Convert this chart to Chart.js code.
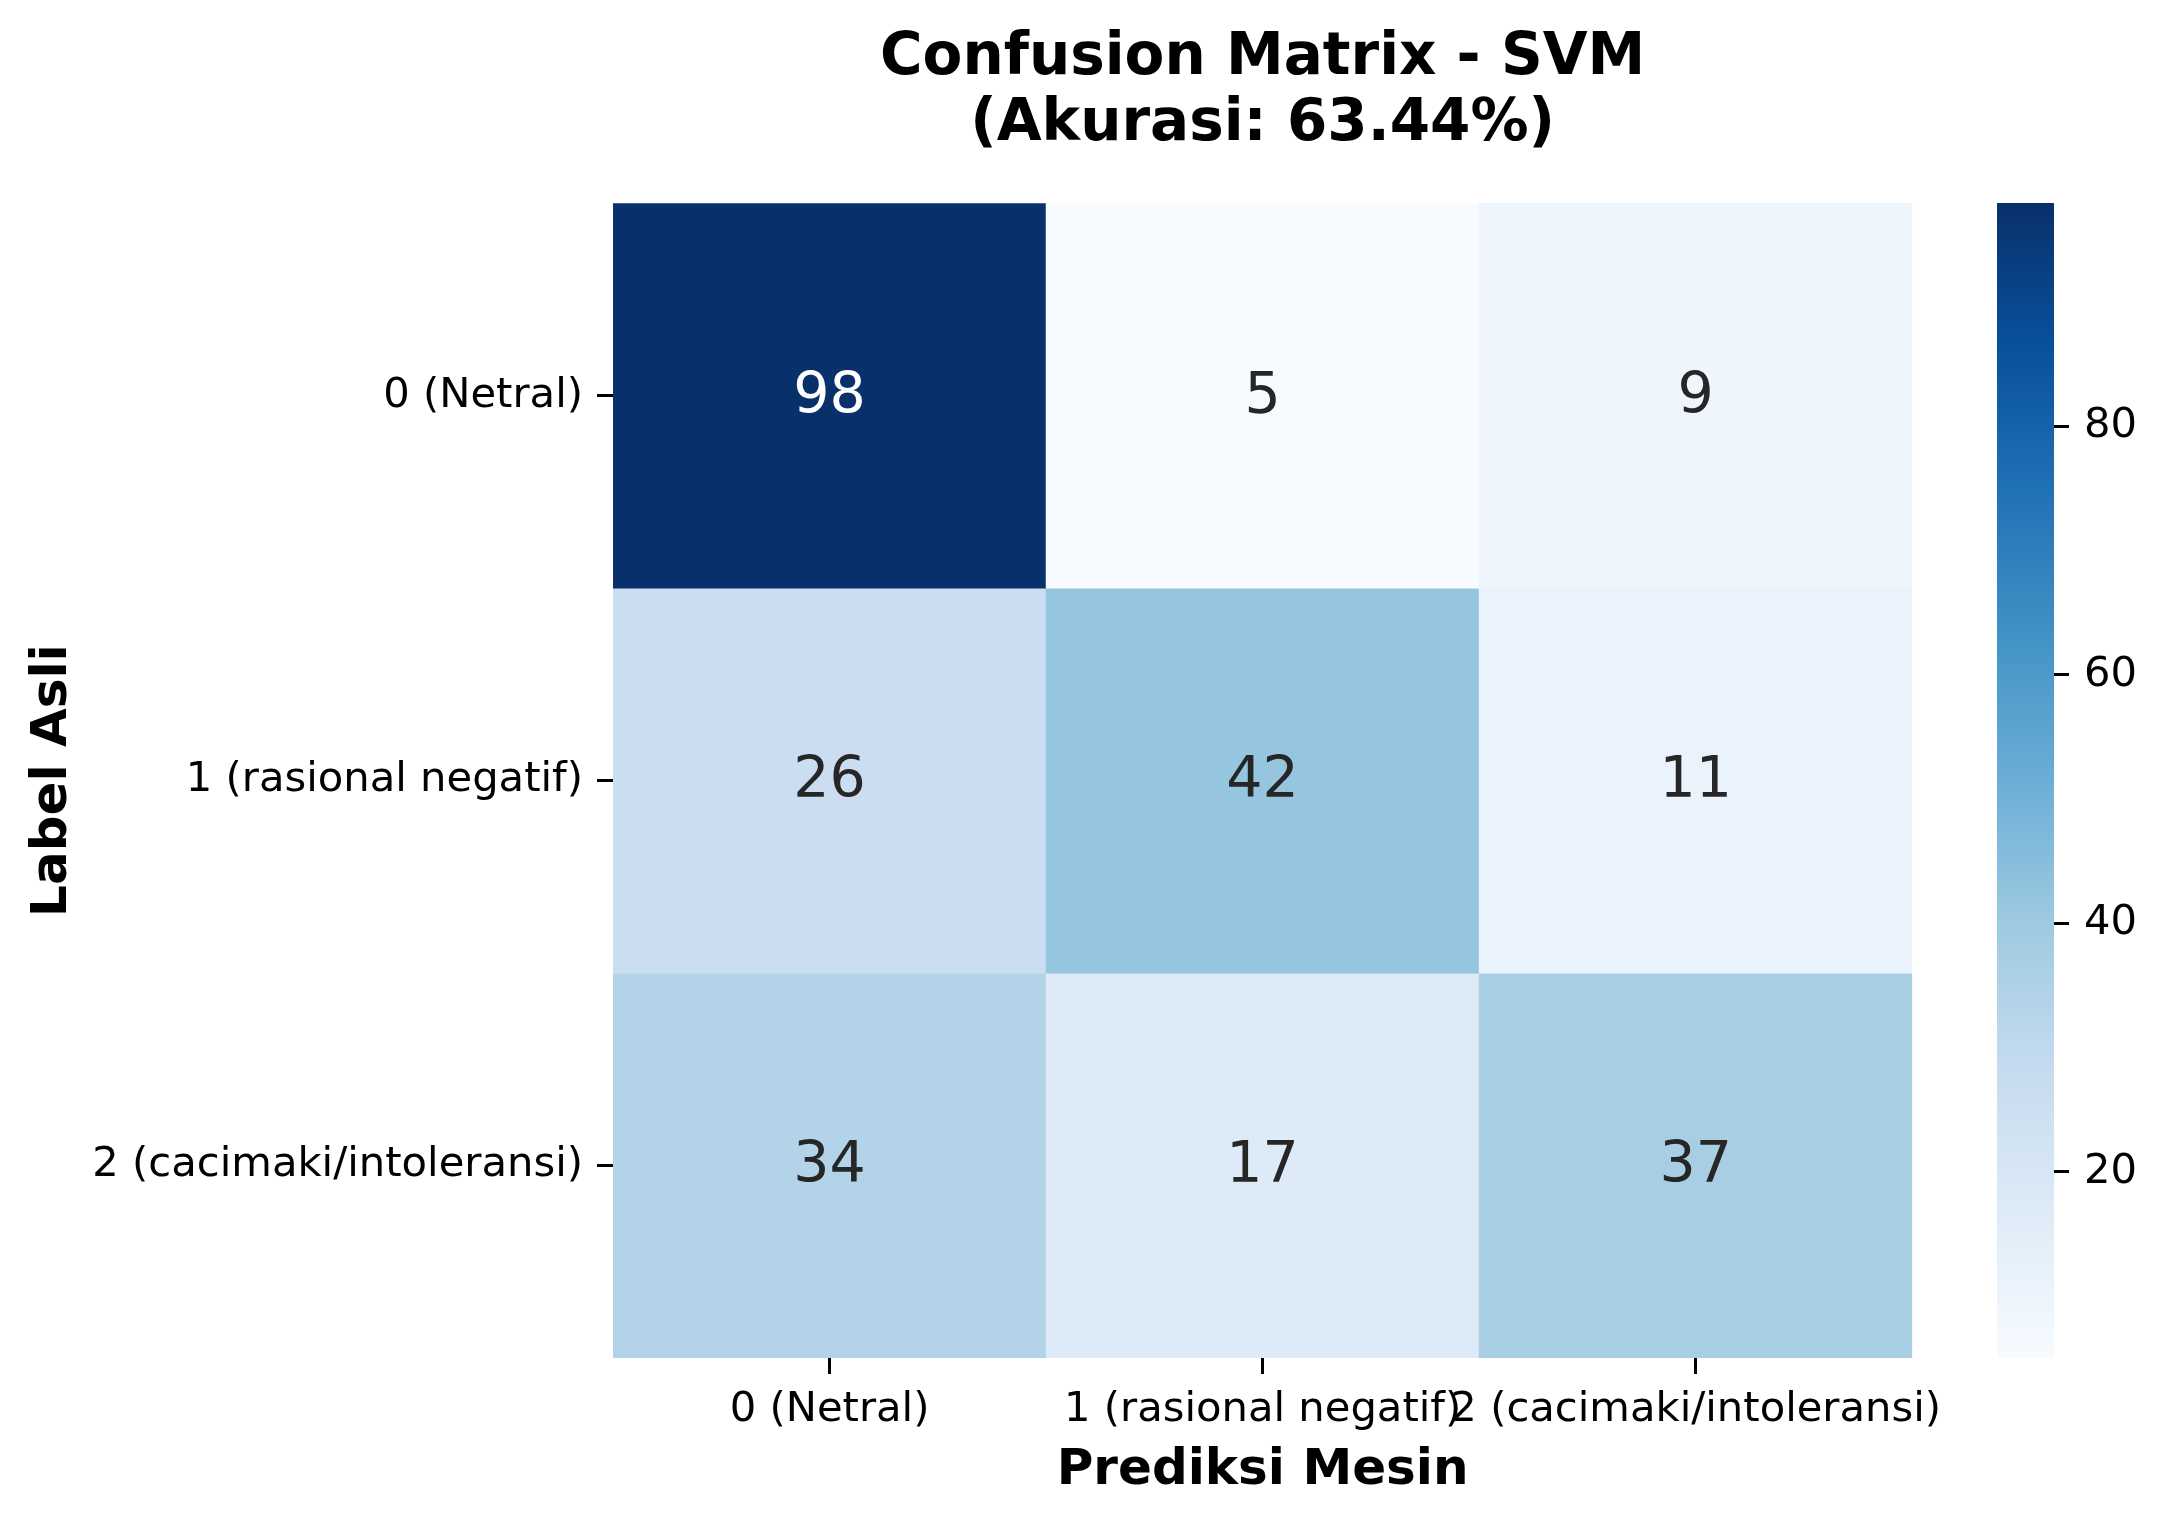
<!DOCTYPE html>
<html>
<head>
<meta charset="utf-8">
<title>Confusion Matrix - SVM</title>
<script src="https://cdn.jsdelivr.net/npm/chart.js@4.4.1/dist/chart.umd.min.js"></script>
<style>
  html, body { margin: 0; padding: 0; background: #fff; }
  #wrap { position: relative; width: 2166px; height: 1524px; }
  #matrix { position: absolute; left: 0; top: 0; }
  #colorbar { position: absolute; left: 1960px; top: 0; }
</style>
</head>
<body>
<div id="wrap">
  <canvas id="matrix" width="1960" height="1524"></canvas>
  <canvas id="colorbar" width="206" height="1524"></canvas>
</div>
<script>
// Confusion matrix counts, one array per true label (rows), columns = predicted.
const rowLabels = ["0 (Netral)", "1 (rasional negatif)", "2 (cacimaki/intoleransi)"];
const colLabels = ["0 (Netral)", "1 (rasional negatif)", "2 (cacimaki/intoleransi)"];
const rowNetral = [98, 5, 9];
const rowRasional = [26, 42, 11];
const rowCacimaki = [34, 17, 37];
const rows = [rowNetral, rowRasional, rowCacimaki];
const colorbarTicks = [20, 40, 60, 80];

const titleLines = ["Confusion Matrix - SVM", "(Akurasi: 63.44%)"];

// matplotlib "Blues" control colours
const BLUES = ["#f7fbff", "#deebf7", "#c6dbef", "#9ecae1", "#6baed6",
               "#4292c6", "#2171b5", "#08519c", "#08306b"];

const allValues = rows.flat();
const vmin = Math.min.apply(null, allValues);
const vmax = Math.max.apply(null, allValues);

function hexRgb(h) {
  return [1, 3, 5].map(function (i) { return parseInt(h.substr(i, 2), 16); });
}

function blues(t) {
  t = Math.max(0, Math.min(1, t));
  const pos = t * (BLUES.length - 1);
  const i = Math.min(Math.floor(pos), BLUES.length - 2);
  const f = pos - i;
  const a = hexRgb(BLUES[i]), b = hexRgb(BLUES[i + 1]);
  return a.map(function (c, k) { return Math.round(c + (b[k] - c) * f); });
}

function cellRgb(v) { return blues((v - vmin) / (vmax - vmin)); }
function rgbStr(c) { return "rgb(" + c[0] + "," + c[1] + "," + c[2] + ")"; }

// seaborn picks the annotation colour from the cell luminance
function textColor(v) {
  const lum = cellRgb(v).map(function (c) {
    c = c / 255;
    return c <= 0.03928 ? c / 12.92 : Math.pow((c + 0.055) / 1.055, 2.4);
  });
  const l = 0.2126 * lum[0] + 0.7152 * lum[1] + 0.0722 * lum[2];
  return l > 0.408 ? "#262626" : "#ffffff";
}

Chart.defaults.font.family = "'DejaVu Sans', sans-serif";
Chart.defaults.color = "#000";

const TICK_FONT = { size: 41.7 };
const LABEL_FONT = { size: 50, weight: "bold" };

// Cell numbers drawn in the middle of each bar
const annotate = {
  id: "annotate",
  afterDatasetsDraw: function (chart) {
    const ctx = chart.ctx;
    ctx.save();
    ctx.font = "57px 'DejaVu Sans'";
    ctx.textAlign = "center";
    ctx.textBaseline = "middle";
    chart.data.datasets.forEach(function (ds, r) {
      chart.getDatasetMeta(r).data.forEach(function (el, c) {
        const v = rows[r][c];
        const p = el.getCenterPoint();
        ctx.fillStyle = textColor(v);
        ctx.fillText(String(v), p.x, p.y + 2);
      });
    });
    ctx.restore();
  },
};

new Chart(document.getElementById("matrix"), {
  type: "bar",
  data: {
    labels: colLabels,
    datasets: rows.map(function (vals, r) {
      return {
        label: rowLabels[r],
        data: vals.map(function () { return [r, r + 1]; }),
        backgroundColor: vals.map(function (v) { return rgbStr(cellRgb(v)); }),
        borderWidth: 0,
        borderSkipped: false,
        grouped: false,
        barPercentage: 1,
        categoryPercentage: 1,
      };
    }),
  },
  options: {
    responsive: false,
    animation: false,
    devicePixelRatio: 1,
    layout: { padding: { left: 0, right: 45, top: 0, bottom: 0 } },
    plugins: {
      legend: { display: false },
      tooltip: { enabled: false },
      title: {
        display: true,
        fullSize: false,
        text: titleLines,
        color: "#000",
        font: { size: 58, weight: "bold", lineHeight: 1.14 },
        padding: { top: 26, bottom: 45 },
      },
    },
    scales: {
      x: {
        type: "category",
        offset: true,
        border: { display: false },
        grid: { display: true, drawOnChartArea: false, offset: false,
                tickLength: 16, tickWidth: 3, color: "#000" },
        ticks: { font: TICK_FONT, padding: 11, autoSkip: false,
                 maxRotation: 0, minRotation: 0, color: "#000" },
        title: { display: true, text: "Prediksi Mesin", font: LABEL_FONT,
                 color: "#000", padding: { top: 0, bottom: 23 } },
        afterFit: function (s) { s.height = 166; },
      },
      y: {
        type: "linear",
        min: 0,
        max: rows.length,
        reverse: true,
        border: { display: false },
        grid: { display: true, drawOnChartArea: false,
                tickLength: 16, tickWidth: 3, color: "#000" },
        ticks: {
          font: TICK_FONT, padding: 14, autoSkip: false, color: "#000",
          callback: function (v) { return rowLabels[Math.floor(v)]; },
        },
        afterBuildTicks: function (s) {
          s.ticks = rowLabels.map(function (_, i) { return { value: i + 0.5 }; });
        },
        title: { display: true, text: "Label Asli", font: LABEL_FONT,
                 color: "#000", padding: { top: 23, bottom: 0 } },
        afterFit: function (s) { s.width = 613; },
      },
    },
  },
  plugins: [annotate],
});

// Colorbar: one floating bar from vmin to vmax filled with the Blues ramp
new Chart(document.getElementById("colorbar"), {
  type: "bar",
  data: {
    labels: [""],
    datasets: [{
      data: [[vmin, vmax]],
      borderWidth: 0,
      borderSkipped: false,
      barPercentage: 1,
      categoryPercentage: 1,
      backgroundColor: function (ctx) {
        const area = ctx.chart.chartArea;
        if (!area) return BLUES[0];
        const g = ctx.chart.ctx.createLinearGradient(0, area.bottom, 0, area.top);
        BLUES.forEach(function (c, i) { g.addColorStop(i / (BLUES.length - 1), c); });
        return g;
      },
    }],
  },
  options: {
    responsive: false,
    animation: false,
    devicePixelRatio: 1,
    layout: { padding: { left: 37, right: 0, top: 203, bottom: 166 } },
    plugins: { legend: { display: false }, tooltip: { enabled: false } },
    scales: {
      x: { display: false, offset: true },
      y: {
        position: "right",
        min: vmin,
        max: vmax,
        border: { display: false },
        grid: { display: true, drawOnChartArea: false,
                tickLength: 15, tickWidth: 3, color: "#000" },
        ticks: { font: TICK_FONT, padding: 15, color: "#000" },
        afterBuildTicks: function (s) {
          s.ticks = colorbarTicks.map(function (v) { return { value: v }; });
        },
        afterFit: function (s) { s.width = 112; },
      },
    },
  },
});
</script>
</body>
</html>
